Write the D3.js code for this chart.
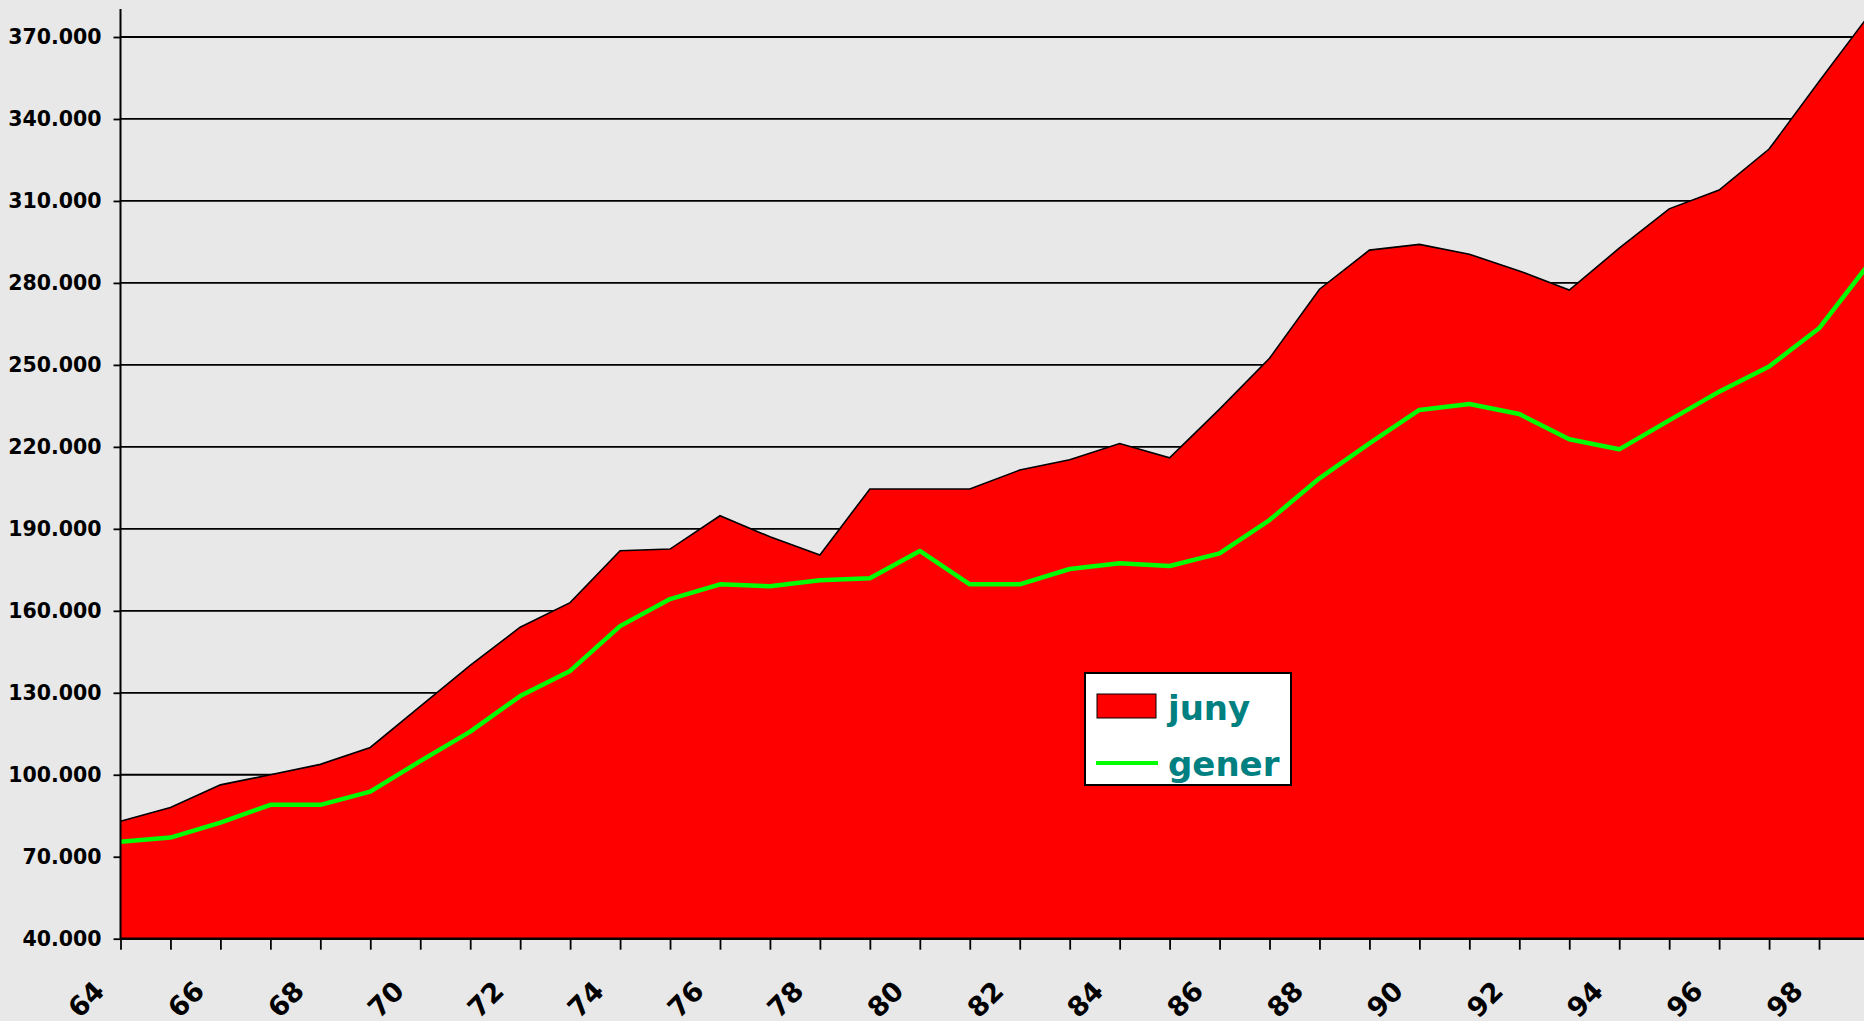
<!DOCTYPE html>
<html>
<head>
<meta charset="utf-8">
<script src="https://cdn.jsdelivr.net/npm/d3@7"></script>
<style>
  html, body { margin: 0; padding: 0; background: #e8e8e8; overflow: hidden; }
  svg { display: block; }
</style>
</head>
<body>
<div id="chart"></div>
<script>
// data ********************************
var years = [64, 65, 66, 67, 68, 69, 70, 71, 72, 73, 74, 75, 76, 77, 78, 79, 80, 81,
             82, 83, 84, 85, 86, 87, 88, 89, 90, 91, 92, 93, 94, 95, 96, 97, 98, 99];

var juny = [83000, 88000, 96300, 100000, 103800, 110000, 125000, 140000, 154000, 163000,
            182000, 182600, 194800, 187100, 180400, 204600, 204600, 204600, 211500, 215300,
            221200, 216000, 233800, 252400, 277700, 292000, 294100, 290500, 284400, 277400,
            292700, 307100, 314000, 329000, 353700, 378000];

var gener = [75500, 77000, 82500, 89000, 89000, 93800, 105000, 115800, 128800, 138000,
             154400, 164300, 169700, 169000, 171200, 171900, 181900, 169700, 169700, 175300,
             177400, 176400, 181000, 193200, 208500, 221300, 233500, 235700, 232000, 222800,
             219100, 229700, 240200, 249400, 263400, 287000];

var yTicks = [40000, 70000, 100000, 130000, 160000, 190000, 220000, 250000, 280000, 310000, 340000, 370000];
var xLabels = [64, 66, 68, 70, 72, 74, 76, 78, 80, 82, 84, 86, 88, 90, 92, 94, 96, 98];
var seriesNames = ['juny', 'gener'];

// svg size ***********
var svgWidth = 1864;
var svgHeight = 1021;

var svg = d3.select('#chart')
  .append('svg')
  .attr('width', svgWidth)
  .attr('height', svgHeight);

svg.append('rect')
  .attr('width', svgWidth)
  .attr('height', svgHeight)
  .attr('fill', '#e8e8e8');

// scales (the last year falls just past the right edge, like the original) ***********
var xScale = d3.scalePoint()
  .domain(years)
  .range([120.5, 1869]);

var yScale = d3.scaleLinear()
  .domain([40000, 370000])
  .range([938.7, 37]);

var fmt = d3.formatLocale({ decimal: ',', thousands: '.', grouping: [3], currency: ['', ''] }).format(',d');

// gridlines ***********
svg.append('g')
  .selectAll('line')
  .data(yTicks.slice(1))
  .enter()
  .append('line')
  .attr('x1', xScale(years[0]))
  .attr('x2', svgWidth)
  .attr('y1', d => yScale(d))
  .attr('y2', d => yScale(d))
  .attr('stroke', '#000')
  .attr('stroke-width', 1.8);

// juny area with its black outline ***********
var area = d3.area()
  .x((d, i) => xScale(years[i]))
  .y0(yScale(40000))
  .y1(d => yScale(d));

svg.append('path')
  .datum(juny)
  .attr('d', area)
  .attr('fill', '#ff0000');

var line = d3.line()
  .x((d, i) => xScale(years[i]))
  .y(d => yScale(d));

svg.append('path')
  .datum(juny)
  .attr('d', line)
  .attr('fill', 'none')
  .attr('stroke', '#000')
  .attr('stroke-width', 1.6);

// gener line ***********
svg.append('path')
  .datum(gener)
  .attr('d', line)
  .attr('fill', 'none')
  .attr('stroke', '#00ff00')
  .attr('stroke-width', 4.5)
  .attr('stroke-linejoin', 'round');

// axes ***********
var leftAxis = d3.axisLeft(yScale)
  .tickValues(yTicks)
  .tickSize(7)
  .tickPadding(12)
  .tickFormat(fmt);

var yAxisG = svg.append('g')
  .attr('transform', `translate(${xScale(years[0])},0)`)
  .call(leftAxis);

yAxisG.select('.domain').remove();
yAxisG.selectAll('line').attr('stroke', '#000').attr('stroke-width', 1.8);
yAxisG.selectAll('text')
  .attr('fill', '#000')
  .style('font-family', '"DejaVu Sans", Verdana, sans-serif')
  .style('font-weight', 'bold')
  .style('font-size', '20.5px');

svg.append('line')
  .attr('x1', xScale(years[0]))
  .attr('x2', xScale(years[0]))
  .attr('y1', 9)
  .attr('y2', yScale(40000))
  .attr('stroke', '#000')
  .attr('stroke-width', 2);

var bottomAxis = d3.axisBottom(xScale)
  .tickSize(11)
  .tickFormat(d => xLabels.indexOf(d) >= 0 ? d : '');

var xAxisG = svg.append('g')
  .attr('transform', `translate(0,${yScale(40000)})`)
  .call(bottomAxis);

xAxisG.select('.domain').remove();
xAxisG.selectAll('line').attr('stroke', '#000').attr('stroke-width', 1.8);
xAxisG.selectAll('text')
  .attr('x', 0)
  .attr('y', 0)
  .attr('dy', 0)
  .attr('fill', '#000')
  .attr('text-anchor', 'end')
  .attr('transform', 'translate(-15,54) rotate(-45)')
  .style('font-family', '"DejaVu Sans", Verdana, sans-serif')
  .style('font-weight', 'bold')
  .style('font-size', '27px');

svg.append('line')
  .attr('x1', xScale(years[0]))
  .attr('x2', svgWidth)
  .attr('y1', yScale(40000))
  .attr('y2', yScale(40000))
  .attr('stroke', '#000')
  .attr('stroke-width', 2.5);

// legend ***********
var legend = svg.append('g').attr('transform', 'translate(1085,673)');

legend.append('rect')
  .attr('width', 206)
  .attr('height', 112)
  .attr('fill', '#fff')
  .attr('stroke', '#000')
  .attr('stroke-width', 2);

legend.append('rect')
  .attr('x', 12)
  .attr('y', 21)
  .attr('width', 59)
  .attr('height', 24)
  .attr('fill', '#ff0000')
  .attr('stroke', '#000')
  .attr('stroke-width', 1);

legend.append('line')
  .attr('x1', 11)
  .attr('x2', 73)
  .attr('y1', 90)
  .attr('y2', 90)
  .attr('stroke', '#00ff00')
  .attr('stroke-width', 4);

legend.selectAll('text.leg')
  .data(seriesNames)
  .enter()
  .append('text')
  .attr('class', 'leg')
  .attr('x', 83)
  .attr('y', (d, i) => 47 + i * 56)
  .attr('fill', '#008080')
  .style('font-family', '"DejaVu Sans", Verdana, sans-serif')
  .style('font-weight', 'bold')
  .style('font-size', '34px')
  .text(d => d);
</script>
</body>
</html>
